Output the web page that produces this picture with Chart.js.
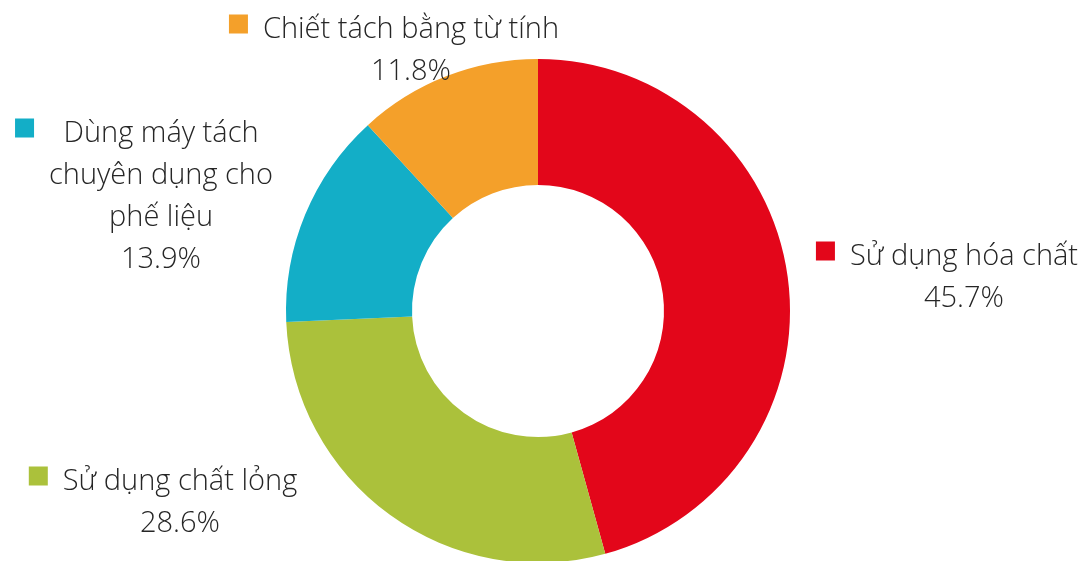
<!DOCTYPE html>
<html lang="vi">
<head>
    <meta charset="UTF-8">
    <title>Tỷ lệ phương pháp tách</title>
    <script src="https://cdn.jsdelivr.net/npm/chart.js"></script>
    <style>
        html, body { margin: 0; padding: 0; background: #fff; overflow: hidden; }
        /* the ring runs a couple of pixels past the bottom edge */
        .chart-box { position: relative; width: 1092px; height: 565px; }
    </style>
</head>
<body>
    <div class="chart-box">
        <canvas id="donut"></canvas>
    </div>

    <script>
        // Categories (split into the lines shown on each label)
        const categories = [
            ['Sử dụng hóa chất'],
            ['Sử dụng chất lỏng'],
            ['Dùng máy tách', 'chuyên dụng cho', 'phế liệu'],
            ['Chiết tách bằng từ tính']
        ];
        // Share of each method, in percent
        const shares = [45.7, 28.6, 13.9, 11.8];
        const sliceColors = ['#E3061A', '#ABC13B', '#13AEC7', '#F4A02A'];

        // label block placement: centre x / first baseline, offset from the ring centre
        const labelOffsets = [
            { dx: 426, dy: -46 },
            { dx: -358, dy: 179 },
            { dx: -377, dy: -169 },
            { dx: -127, dy: -273 }
        ];

        const FONT = '300 29px "Open Sans", "Noto Sans", sans-serif';
        const LINE_H = 42;
        const KEY = 19;
        const KEY_GAP = 15;

        const sliceLabels = {
            id: 'sliceLabels',
            afterDatasetsDraw(chart) {
                const ctx = chart.ctx;
                const arc = chart.getDatasetMeta(0).data[0];
                const cx = arc.x, cy = arc.y;
                ctx.save();
                ctx.font = FONT;
                ctx.fillStyle = '#262626';
                ctx.textAlign = 'center';
                ctx.textBaseline = 'alphabetic';
                categories.forEach((lines, i) => {
                    const all = lines.concat([shares[i].toFixed(1) + '%']);
                    const x = cx + labelOffsets[i].dx;
                    const y = cy + labelOffsets[i].dy;
                    const w = Math.max(...all.map(t => ctx.measureText(t).width));
                    all.forEach((t, k) => ctx.fillText(t, x, y + k * LINE_H));
                    // colour key to the left of the text block
                    ctx.fillStyle = sliceColors[i];
                    ctx.fillRect(x - w / 2 - KEY_GAP - KEY, y - 14 - KEY / 2, KEY, KEY);
                    ctx.fillStyle = '#262626';
                });
                ctx.restore();
            }
        };

        new Chart(document.getElementById('donut'), {
            type: 'doughnut',
            data: {
                labels: categories.map(c => c.join(' ')),
                datasets: [{
                    data: shares,
                    backgroundColor: sliceColors,
                    borderWidth: 0
                }]
            },
            options: {
                responsive: true,
                maintainAspectRatio: false,
                animation: false,
                cutout: '50%',
                layout: { padding: { top: 59, bottom: 2, left: 0, right: 16 } },
                plugins: {
                    legend: { display: false },
                    tooltip: { enabled: false }
                }
            },
            plugins: [sliceLabels]
        });
    </script>
</body>
</html>
